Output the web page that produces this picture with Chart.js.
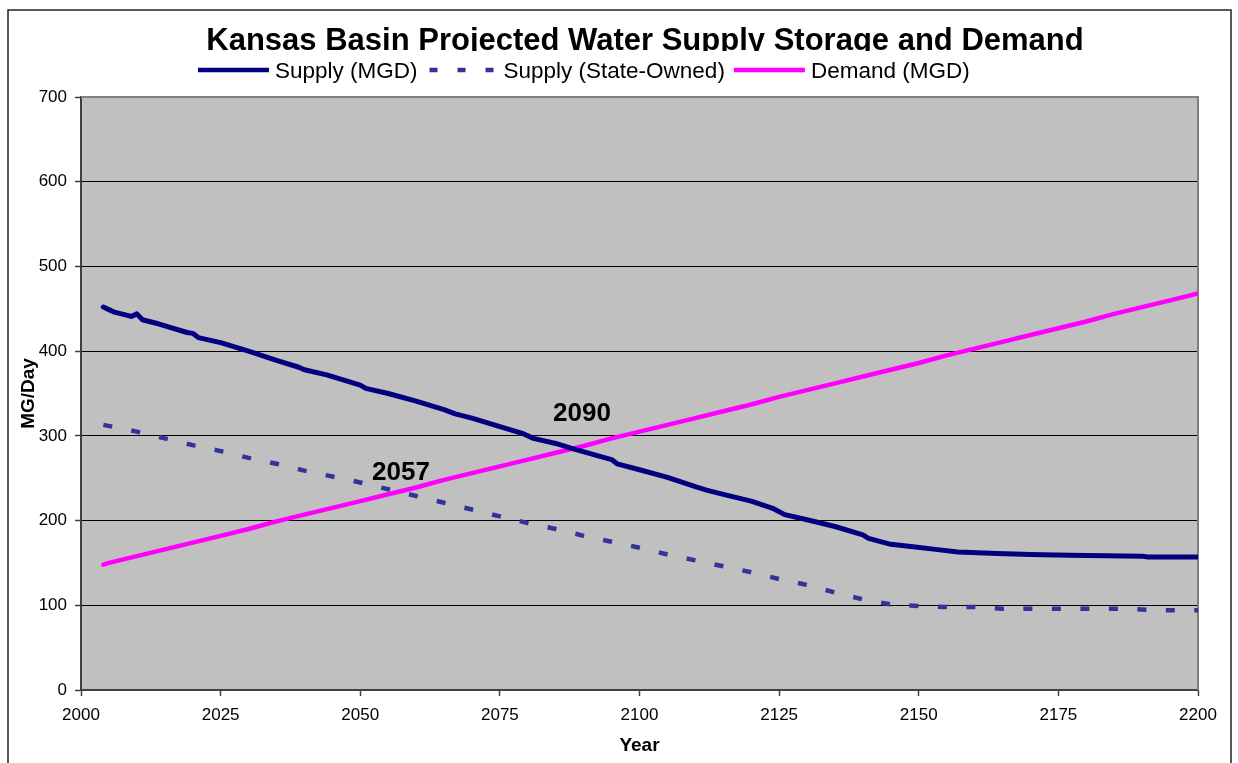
<!DOCTYPE html>
<html>
<head>
<meta charset="utf-8">
<title>Kansas Basin Projected Water Supply Storage and Demand</title>
<script src="https://cdn.jsdelivr.net/npm/chart.js@4.4.1/dist/chart.umd.min.js"></script>
<style>
	html, body { margin: 0; padding: 0; background: #fff; }
	canvas { display: block; }
</style>
</head>
<body>
<canvas id="line-chart" width="1238" height="763"></canvas>
<script>
// series values (MG/day) by year
var supplyYears = [2004, 2005, 2006, 2009, 2010, 2011, 2014, 2019, 2020, 2021, 2025, 2030, 2035, 2039, 2040, 2044, 2050, 2051, 2055, 2060, 2065, 2067, 2070, 2075, 2079, 2081, 2085, 2088, 2095, 2096, 2100, 2105, 2110, 2112, 2115, 2120, 2124, 2126, 2130, 2135, 2140, 2141, 2145, 2149, 2153, 2157, 2164, 2170, 2177, 2190, 2191, 2200];
var supplyMGD = [452, 449, 446, 441, 444, 437, 432, 422, 421, 416, 410, 400, 389, 381, 378, 372, 360, 356, 350, 341, 331, 326, 321, 311, 303, 297, 291, 285, 272, 267, 260, 251, 240, 236, 231, 223, 214, 207, 201, 193, 183, 179, 172, 169, 166, 163, 161, 160, 159, 158, 157, 157];

var stateYears = [2004, 2010, 2015, 2020, 2025, 2030, 2035, 2040, 2045, 2050, 2055, 2060, 2065, 2070, 2075, 2080, 2085, 2090, 2095, 2100, 2105, 2110, 2115, 2120, 2125, 2130, 2135, 2140, 2145, 2150, 2155, 2160, 2165, 2187, 2190, 2192, 2200];
var stateOwned = [313, 305, 297, 289, 282, 274, 267, 259, 252, 245, 237, 229, 221, 213, 205, 197, 190, 182, 175, 168, 160, 153, 146, 139, 131, 124, 115, 107, 101, 99, 98, 98, 96, 96, 95, 94, 94];

var demandYears = [2004, 2005, 2010, 2015, 2020, 2025, 2030, 2035, 2040, 2045, 2050, 2055, 2060, 2065, 2070, 2075, 2080, 2085, 2090, 2095, 2100, 2105, 2110, 2115, 2120, 2125, 2130, 2135, 2140, 2145, 2150, 2155, 2160, 2165, 2170, 2175, 2180, 2185, 2190, 2195, 2200];
var demandMGD = [148, 150, 158, 166, 174, 182, 190, 199, 207, 215, 223, 231, 239, 248, 256, 264, 272, 280, 288, 297, 305, 313, 321, 329, 337, 346, 354, 362, 370, 378, 386, 395, 403, 411, 419, 427, 435, 444, 452, 460, 468];

var seriesNames = ['Supply (MGD)', 'Supply (State-Owned)', 'Demand (MGD)'];
var xTicks = [2000, 2025, 2050, 2075, 2100, 2125, 2150, 2175, 2200];
var yTicks = [0, 100, 200, 300, 400, 500, 600, 700];

// crossover years written on the plot, anchored in data units
var crossLabels = ['2057', '2090'];
var crossAt = [[2057.3, 256], [2089.7, 326]];

var chartTitle = 'Kansas Basin Projected Water Supply Storage and Demand';
var fontFamily = '"Liberation Sans", Arial, Helvetica, sans-serif';

function pairs(xs, ys) {
	return xs.map(function(x, i){ return {x: x, y: ys[i]}; });
}

Chart.defaults.font.family = fontFamily;
Chart.defaults.color = '#000';

var decor = {
	id: 'decor',
	beforeDraw: function(chart){
		var ctx = chart.ctx, a = chart.chartArea;
		ctx.save();
		ctx.fillStyle = '#fff';
		ctx.fillRect(0, 0, chart.width, chart.height);
		ctx.strokeStyle = '#222';
		ctx.lineWidth = 1.5;
		ctx.strokeRect(8, 10, 1223, 800);
		ctx.fillStyle = '#c0c0c0';
		ctx.fillRect(a.left, a.top, a.right - a.left, a.bottom - a.top);
		ctx.restore();
	},
	beforeDatasetsDraw: function(chart){
		var ctx = chart.ctx, a = chart.chartArea;
		ctx.save();
		ctx.strokeStyle = '#808080';
		ctx.lineWidth = 2;
		ctx.beginPath();
		ctx.moveTo(a.left, a.top);
		ctx.lineTo(a.right, a.top);
		ctx.lineTo(a.right, a.bottom);
		ctx.stroke();
		ctx.restore();
	},
	afterDraw: function(chart){
		var ctx = chart.ctx;
		var xs = chart.scales.x, ys = chart.scales.y;

		// title, cut off just under its baseline
		ctx.save();
		ctx.beginPath();
		ctx.rect(0, 0, chart.width, 51);
		ctx.clip();
		ctx.fillStyle = '#000';
		ctx.font = 'bold 31px ' + fontFamily;
		ctx.textAlign = 'center';
		ctx.textBaseline = 'alphabetic';
		ctx.fillText(chartTitle, 645, 50);
		ctx.restore();

		// legend row
		ctx.save();
		ctx.font = '22.5px ' + fontFamily;
		ctx.textBaseline = 'middle';
		ctx.textAlign = 'left';
		var x = 198, ly = 70;
		chart.data.datasets.forEach(function(ds){
			ctx.strokeStyle = ds.borderColor;
			ctx.lineWidth = 4.5;
			ctx.lineCap = 'butt';
			if (ds.borderDash) {
				ctx.setLineDash([8, 20]);
				ctx.beginPath();
				ctx.moveTo(x + 3, ly);
				ctx.lineTo(x + 68, ly);
				ctx.stroke();
				ctx.setLineDash([]);
			} else {
				ctx.beginPath();
				ctx.moveTo(x, ly);
				ctx.lineTo(x + 71, ly);
				ctx.stroke();
			}
			x += 77;
			ctx.fillStyle = '#000';
			ctx.fillText(ds.label, x, ly + 2);
			x += ctx.measureText(ds.label).width + 9;
		});
		ctx.restore();

		// crossover years
		ctx.save();
		ctx.font = 'bold 26px ' + fontFamily;
		ctx.fillStyle = '#000';
		ctx.textAlign = 'center';
		ctx.textBaseline = 'middle';
		crossLabels.forEach(function(t, i){
			ctx.fillText(t, xs.getPixelForValue(crossAt[i][0]), ys.getPixelForValue(crossAt[i][1]));
		});
		ctx.restore();
	}
};

var context = document.getElementById('line-chart').getContext('2d');
var chart = new Chart(context, {
	type: 'line',
	data: {
		datasets: [{
			label: seriesNames[0],
			data: pairs(supplyYears, supplyMGD),
			borderColor: '#000080',
			borderWidth: 5,
			borderJoinStyle: 'round',
			borderCapStyle: 'round',
			pointRadius: 0,
			fill: false
		}, {
			label: seriesNames[1],
			data: pairs(stateYears, stateOwned),
			borderColor: '#333399',
			borderWidth: 4.5,
			borderDash: [9, 19.5],
			borderCapStyle: 'butt',
			pointRadius: 0,
			fill: false
		}, {
			label: seriesNames[2],
			data: pairs(demandYears, demandMGD),
			borderColor: '#ff00ff',
			borderWidth: 4.5,
			borderJoinStyle: 'round',
			borderCapStyle: 'round',
			pointRadius: 0,
			fill: false
		}]
	},
	options: {
		responsive: false,
		animation: false,
		layout: { padding: { top: 97, right: 40, left: 0, bottom: 0 } },
		plugins: {
			legend: { display: false },
			title: { display: false },
			tooltip: { enabled: false }
		},
		scales: {
			x: {
				type: 'linear',
				min: 2000,
				max: 2200,
				afterBuildTicks: function(scale){
					scale.ticks = xTicks.map(function(v){ return {value: v}; });
				},
				afterFit: function(scale){ scale.height = 73; },
				ticks: {
					font: { size: 17 },
					color: '#000',
					padding: 9,
					maxRotation: 0,
					callback: function(v){ return String(v); }
				},
				grid: {
					drawOnChartArea: false,
					tickLength: 6,
					tickColor: '#404040',
					tickWidth: 1.5
				},
				border: { color: '#404040', width: 2 },
				title: {
					display: true,
					text: 'Year',
					font: { size: 19, weight: 'bold', lineHeight: 1.2 },
					padding: { top: 0, bottom: 6 }
				}
			},
			y: {
				min: 0,
				max: 700,
				afterBuildTicks: function(scale){
					scale.ticks = yTicks.map(function(v){ return {value: v}; });
				},
				afterFit: function(scale){ scale.width = 81; },
				ticks: {
					font: { size: 17 },
					color: '#000',
					padding: 8,
					callback: function(v){ return String(v); }
				},
				grid: {
					color: '#000',
					lineWidth: 1,
					tickLength: 6,
					tickColor: '#404040',
					tickWidth: 1.5
				},
				border: { color: '#404040', width: 2 },
				title: {
					display: true,
					text: 'MG/Day',
					font: { size: 19, weight: 'bold', lineHeight: 1.2 },
					padding: { top: 17, bottom: 0 }
				}
			}
		}
	},
	plugins: [decor]
});
</script>
</body>
</html>
